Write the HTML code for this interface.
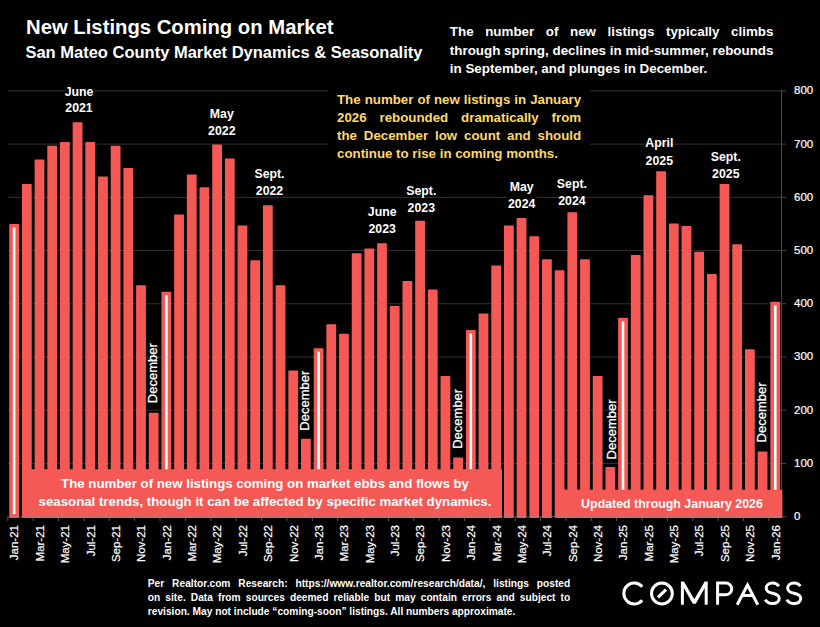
<!DOCTYPE html>
<html><head><meta charset="utf-8">
<style>
html,body{margin:0;padding:0;background:#000;}
body{width:820px;height:627px;position:relative;overflow:hidden;font-family:"Liberation Sans",sans-serif;color:#fff;}
svg{position:absolute;left:0;top:0;}
.yl{font-size:11.5px;fill:#fff;stroke:#fff;stroke-width:0.2px;}
.xl{font-size:11.5px;fill:#fff;text-anchor:end;stroke:#fff;stroke-width:0.2px;}
.dec{font-size:13px;fill:#fff;stroke:#fff;stroke-width:0.25px;}
.ann{font-size:12.3px;font-weight:bold;fill:#fff;text-anchor:middle;}
.t{position:absolute;white-space:nowrap;font-weight:bold;}
.j{position:absolute;font-weight:bold;white-space:nowrap;text-align:justify;text-align-last:justify;}
</style></head><body>
<svg width="820" height="627" viewBox="0 0 820 627">
<rect x="8" y="462.89" width="774" height="1" fill="#333"/>
<rect x="8" y="409.68" width="774" height="1" fill="#333"/>
<rect x="8" y="356.47" width="774" height="1" fill="#333"/>
<rect x="8" y="303.26" width="774" height="1" fill="#333"/>
<rect x="8" y="250.05" width="774" height="1" fill="#333"/>
<rect x="8" y="196.84" width="774" height="1" fill="#333"/>
<rect x="8" y="143.63" width="774" height="1" fill="#333"/>
<rect x="8" y="90.42" width="774" height="1" fill="#333"/>
<rect x="9.24" y="223.98" width="9.8" height="294.02" rx="0.8" fill="#F55956"/>
<rect x="12.84" y="227.48" width="2.6" height="286.62" fill="#fff"/>
<rect x="21.93" y="184.01" width="9.8" height="333.99" rx="0.8" fill="#F55956"/>
<rect x="34.61" y="159.49" width="9.8" height="358.51" rx="0.8" fill="#F55956"/>
<rect x="47.30" y="145.63" width="9.8" height="372.37" rx="0.8" fill="#F55956"/>
<rect x="59.98" y="141.90" width="9.8" height="376.10" rx="0.8" fill="#F55956"/>
<rect x="72.67" y="122.18" width="9.8" height="395.82" rx="0.8" fill="#F55956"/>
<rect x="85.35" y="141.90" width="9.8" height="376.10" rx="0.8" fill="#F55956"/>
<rect x="98.04" y="176.55" width="9.8" height="341.45" rx="0.8" fill="#F55956"/>
<rect x="110.72" y="145.63" width="9.8" height="372.37" rx="0.8" fill="#F55956"/>
<rect x="123.41" y="168.02" width="9.8" height="349.98" rx="0.8" fill="#F55956"/>
<rect x="136.10" y="285.28" width="9.8" height="232.72" rx="0.8" fill="#F55956"/>
<rect x="148.78" y="412.67" width="9.8" height="105.33" rx="0.8" fill="#F55956"/>
<rect x="161.47" y="291.67" width="9.8" height="226.33" rx="0.8" fill="#F55956"/>
<rect x="165.07" y="295.17" width="2.6" height="218.93" fill="#fff"/>
<rect x="174.15" y="214.39" width="9.8" height="303.61" rx="0.8" fill="#F55956"/>
<rect x="186.84" y="174.41" width="9.8" height="343.59" rx="0.8" fill="#F55956"/>
<rect x="199.52" y="187.21" width="9.8" height="330.79" rx="0.8" fill="#F55956"/>
<rect x="212.21" y="144.57" width="9.8" height="373.43" rx="0.8" fill="#F55956"/>
<rect x="224.89" y="158.42" width="9.8" height="359.58" rx="0.8" fill="#F55956"/>
<rect x="237.58" y="225.58" width="9.8" height="292.42" rx="0.8" fill="#F55956"/>
<rect x="250.26" y="260.23" width="9.8" height="257.77" rx="0.8" fill="#F55956"/>
<rect x="262.95" y="205.33" width="9.8" height="312.67" rx="0.8" fill="#F55956"/>
<rect x="275.63" y="285.28" width="9.8" height="232.72" rx="0.8" fill="#F55956"/>
<rect x="288.32" y="370.56" width="9.8" height="147.44" rx="0.8" fill="#F55956"/>
<rect x="301.00" y="438.78" width="9.8" height="79.22" rx="0.8" fill="#F55956"/>
<rect x="313.69" y="348.17" width="9.8" height="169.83" rx="0.8" fill="#F55956"/>
<rect x="317.29" y="351.67" width="2.6" height="162.43" fill="#fff"/>
<rect x="326.37" y="324.19" width="9.8" height="193.81" rx="0.8" fill="#F55956"/>
<rect x="339.06" y="333.78" width="9.8" height="184.22" rx="0.8" fill="#F55956"/>
<rect x="351.74" y="253.30" width="9.8" height="264.70" rx="0.8" fill="#F55956"/>
<rect x="364.43" y="248.50" width="9.8" height="269.50" rx="0.8" fill="#F55956"/>
<rect x="377.11" y="243.17" width="9.8" height="274.83" rx="0.8" fill="#F55956"/>
<rect x="389.80" y="306.06" width="9.8" height="211.94" rx="0.8" fill="#F55956"/>
<rect x="402.49" y="281.01" width="9.8" height="236.99" rx="0.8" fill="#F55956"/>
<rect x="415.17" y="220.79" width="9.8" height="297.21" rx="0.8" fill="#F55956"/>
<rect x="427.86" y="289.54" width="9.8" height="228.46" rx="0.8" fill="#F55956"/>
<rect x="440.54" y="375.89" width="9.8" height="142.11" rx="0.8" fill="#F55956"/>
<rect x="453.23" y="457.44" width="9.8" height="60.56" rx="0.8" fill="#F55956"/>
<rect x="465.91" y="330.05" width="9.8" height="187.95" rx="0.8" fill="#F55956"/>
<rect x="469.51" y="333.55" width="2.6" height="180.55" fill="#fff"/>
<rect x="478.60" y="313.53" width="9.8" height="204.47" rx="0.8" fill="#F55956"/>
<rect x="491.28" y="265.56" width="9.8" height="252.44" rx="0.8" fill="#F55956"/>
<rect x="503.97" y="225.58" width="9.8" height="292.42" rx="0.8" fill="#F55956"/>
<rect x="516.65" y="218.12" width="9.8" height="299.88" rx="0.8" fill="#F55956"/>
<rect x="529.34" y="236.24" width="9.8" height="281.76" rx="0.8" fill="#F55956"/>
<rect x="542.02" y="259.16" width="9.8" height="258.84" rx="0.8" fill="#F55956"/>
<rect x="554.71" y="270.35" width="9.8" height="247.65" rx="0.8" fill="#F55956"/>
<rect x="567.39" y="212.26" width="9.8" height="305.74" rx="0.8" fill="#F55956"/>
<rect x="580.08" y="259.16" width="9.8" height="258.84" rx="0.8" fill="#F55956"/>
<rect x="592.76" y="375.89" width="9.8" height="142.11" rx="0.8" fill="#F55956"/>
<rect x="605.45" y="467.03" width="9.8" height="50.97" rx="0.8" fill="#F55956"/>
<rect x="618.13" y="317.79" width="9.8" height="200.21" rx="0.8" fill="#F55956"/>
<rect x="621.73" y="321.29" width="2.6" height="192.81" fill="#fff"/>
<rect x="630.82" y="254.90" width="9.8" height="263.10" rx="0.8" fill="#F55956"/>
<rect x="643.50" y="195.20" width="9.8" height="322.80" rx="0.8" fill="#F55956"/>
<rect x="656.19" y="171.22" width="9.8" height="346.78" rx="0.8" fill="#F55956"/>
<rect x="668.88" y="223.45" width="9.8" height="294.55" rx="0.8" fill="#F55956"/>
<rect x="681.56" y="226.12" width="9.8" height="291.88" rx="0.8" fill="#F55956"/>
<rect x="694.25" y="251.70" width="9.8" height="266.30" rx="0.8" fill="#F55956"/>
<rect x="706.93" y="274.09" width="9.8" height="243.91" rx="0.8" fill="#F55956"/>
<rect x="719.62" y="184.01" width="9.8" height="333.99" rx="0.8" fill="#F55956"/>
<rect x="732.30" y="244.24" width="9.8" height="273.76" rx="0.8" fill="#F55956"/>
<rect x="744.99" y="349.24" width="9.8" height="168.76" rx="0.8" fill="#F55956"/>
<rect x="757.67" y="451.57" width="9.8" height="66.43" rx="0.8" fill="#F55956"/>
<rect x="770.36" y="301.80" width="9.8" height="216.20" rx="0.8" fill="#F55956"/>
<rect x="773.96" y="305.30" width="2.6" height="208.80" fill="#fff"/>
<rect x="781" y="90.4" width="1" height="427" fill="#4a4a4a"/>
<rect x="782" y="516.10" width="4" height="1" fill="#4a4a4a"/>
<rect x="782" y="462.89" width="4" height="1" fill="#4a4a4a"/>
<rect x="782" y="409.68" width="4" height="1" fill="#4a4a4a"/>
<rect x="782" y="356.47" width="4" height="1" fill="#4a4a4a"/>
<rect x="782" y="303.26" width="4" height="1" fill="#4a4a4a"/>
<rect x="782" y="250.05" width="4" height="1" fill="#4a4a4a"/>
<rect x="782" y="196.84" width="4" height="1" fill="#4a4a4a"/>
<rect x="782" y="143.63" width="4" height="1" fill="#4a4a4a"/>
<rect x="782" y="90.42" width="4" height="1" fill="#4a4a4a"/>
<rect x="7.30" y="517" width="1" height="4" fill="#555"/>
<rect x="32.67" y="517" width="1" height="4" fill="#555"/>
<rect x="58.04" y="517" width="1" height="4" fill="#555"/>
<rect x="83.41" y="517" width="1" height="4" fill="#555"/>
<rect x="108.78" y="517" width="1" height="4" fill="#555"/>
<rect x="134.15" y="517" width="1" height="4" fill="#555"/>
<rect x="159.52" y="517" width="1" height="4" fill="#555"/>
<rect x="184.89" y="517" width="1" height="4" fill="#555"/>
<rect x="210.26" y="517" width="1" height="4" fill="#555"/>
<rect x="235.63" y="517" width="1" height="4" fill="#555"/>
<rect x="261.00" y="517" width="1" height="4" fill="#555"/>
<rect x="286.38" y="517" width="1" height="4" fill="#555"/>
<rect x="311.75" y="517" width="1" height="4" fill="#555"/>
<rect x="337.12" y="517" width="1" height="4" fill="#555"/>
<rect x="362.49" y="517" width="1" height="4" fill="#555"/>
<rect x="387.86" y="517" width="1" height="4" fill="#555"/>
<rect x="413.23" y="517" width="1" height="4" fill="#555"/>
<rect x="438.60" y="517" width="1" height="4" fill="#555"/>
<rect x="463.97" y="517" width="1" height="4" fill="#555"/>
<rect x="489.34" y="517" width="1" height="4" fill="#555"/>
<rect x="514.71" y="517" width="1" height="4" fill="#555"/>
<rect x="540.08" y="517" width="1" height="4" fill="#555"/>
<rect x="565.45" y="517" width="1" height="4" fill="#555"/>
<rect x="590.82" y="517" width="1" height="4" fill="#555"/>
<rect x="616.19" y="517" width="1" height="4" fill="#555"/>
<rect x="641.56" y="517" width="1" height="4" fill="#555"/>
<rect x="666.93" y="517" width="1" height="4" fill="#555"/>
<rect x="692.30" y="517" width="1" height="4" fill="#555"/>
<rect x="717.67" y="517" width="1" height="4" fill="#555"/>
<rect x="743.04" y="517" width="1" height="4" fill="#555"/>
<rect x="768.41" y="517" width="1" height="4" fill="#555"/>
<text x="794" y="520.0" class="yl">0</text>
<text x="794" y="466.8" class="yl">100</text>
<text x="794" y="413.6" class="yl">200</text>
<text x="794" y="360.4" class="yl">300</text>
<text x="794" y="307.2" class="yl">400</text>
<text x="794" y="254.0" class="yl">500</text>
<text x="794" y="200.7" class="yl">600</text>
<text x="794" y="147.5" class="yl">700</text>
<text x="794" y="94.3" class="yl">800</text>
<text transform="translate(18.4,525) rotate(-90)" class="xl">Jan-21</text>
<text transform="translate(43.8,525) rotate(-90)" class="xl">Mar-21</text>
<text transform="translate(69.2,525) rotate(-90)" class="xl">May-21</text>
<text transform="translate(94.6,525) rotate(-90)" class="xl">Jul-21</text>
<text transform="translate(119.9,525) rotate(-90)" class="xl">Sep-21</text>
<text transform="translate(145.3,525) rotate(-90)" class="xl">Nov-21</text>
<text transform="translate(170.7,525) rotate(-90)" class="xl">Jan-22</text>
<text transform="translate(196.0,525) rotate(-90)" class="xl">Mar-22</text>
<text transform="translate(221.4,525) rotate(-90)" class="xl">May-22</text>
<text transform="translate(246.8,525) rotate(-90)" class="xl">Jul-22</text>
<text transform="translate(272.1,525) rotate(-90)" class="xl">Sep-22</text>
<text transform="translate(297.5,525) rotate(-90)" class="xl">Nov-22</text>
<text transform="translate(322.9,525) rotate(-90)" class="xl">Jan-23</text>
<text transform="translate(348.3,525) rotate(-90)" class="xl">Mar-23</text>
<text transform="translate(373.6,525) rotate(-90)" class="xl">May-23</text>
<text transform="translate(399.0,525) rotate(-90)" class="xl">Jul-23</text>
<text transform="translate(424.4,525) rotate(-90)" class="xl">Sep-23</text>
<text transform="translate(449.7,525) rotate(-90)" class="xl">Nov-23</text>
<text transform="translate(475.1,525) rotate(-90)" class="xl">Jan-24</text>
<text transform="translate(500.5,525) rotate(-90)" class="xl">Mar-24</text>
<text transform="translate(525.9,525) rotate(-90)" class="xl">May-24</text>
<text transform="translate(551.2,525) rotate(-90)" class="xl">Jul-24</text>
<text transform="translate(576.6,525) rotate(-90)" class="xl">Sep-24</text>
<text transform="translate(602.0,525) rotate(-90)" class="xl">Nov-24</text>
<text transform="translate(627.3,525) rotate(-90)" class="xl">Jan-25</text>
<text transform="translate(652.7,525) rotate(-90)" class="xl">Mar-25</text>
<text transform="translate(678.1,525) rotate(-90)" class="xl">May-25</text>
<text transform="translate(703.4,525) rotate(-90)" class="xl">Jul-25</text>
<text transform="translate(728.8,525) rotate(-90)" class="xl">Sep-25</text>
<text transform="translate(754.2,525) rotate(-90)" class="xl">Nov-25</text>
<text transform="translate(779.6,525) rotate(-90)" class="xl">Jan-26</text>
<text transform="translate(156.7,403.2) rotate(-90)" class="dec">December</text>
<text transform="translate(309.2,430.7) rotate(-90)" class="dec">December</text>
<text transform="translate(461.8,448.8) rotate(-90)" class="dec">December</text>
<text transform="translate(616.1,459.4) rotate(-90)" class="dec">December</text>
<text transform="translate(765.7,442.4) rotate(-90)" class="dec">December</text>
<rect x="65" y="86" width="29" height="10" fill="#000"/>
<rect x="507" y="196.3" width="29.5" height="12" fill="#000"/>
<text x="79" y="95.5" class="ann">June</text>
<text x="79" y="112.2" class="ann">2021</text>
<text x="221.8" y="118.3" class="ann">May</text>
<text x="221.8" y="135" class="ann">2022</text>
<text x="269.5" y="178.3" class="ann">Sept.</text>
<text x="269.5" y="195" class="ann">2022</text>
<text x="382.2" y="216.3" class="ann">June</text>
<text x="382.2" y="233" class="ann">2023</text>
<text x="421.3" y="194.8" class="ann">Sept.</text>
<text x="421.3" y="211.6" class="ann">2023</text>
<text x="521.7" y="190.5" class="ann">May</text>
<text x="521.7" y="207.9" class="ann">2024</text>
<text x="571.9" y="188.1" class="ann">Sept.</text>
<text x="571.9" y="205" class="ann">2024</text>
<text x="659.3" y="147.1" class="ann">April</text>
<text x="659.3" y="164.8" class="ann">2025</text>
<text x="725.8" y="161" class="ann">Sept.</text>
<text x="725.8" y="177.6" class="ann">2025</text>
<rect x="328" y="84" width="262" height="84" fill="#000"/>
<rect x="27" y="469.2" width="475" height="48.8" fill="#F55956"/>
<rect x="555" y="489.7" width="227.4" height="28.3" fill="#F55956"/>
<rect x="7.5" y="516.2" width="774" height="1" fill="#888" fill-opacity="0.6"/>
<text x="26" y="34.2" style="font-size:20.3px;font-weight:bold;fill:#fff">New Listings Coming on Market</text>
<text x="25.4" y="58.1" style="font-size:16.5px;font-weight:bold;fill:#fff">San Mateo County Market Dynamics &amp; Seasonality</text>
<text x="265" y="488.3" style="font-size:13.25px;font-weight:bold;fill:#fff;text-anchor:middle">The number of new listings coming on market ebbs and flows by</text>
<text x="265" y="506.3" style="font-size:13.25px;font-weight:bold;fill:#fff;text-anchor:middle">seasonal trends, though it can be affected by specific market dynamics.</text>
<text x="672" y="507.5" style="font-size:12.4px;font-weight:bold;fill:#fff;text-anchor:middle">Updated through January 2026</text>
</svg>
<div class="j" style="left:449.8px;top:24.32px;width:323.7px;font-size:13.4px;line-height:16.08px;color:#fff">The number of new listings typically climbs</div>
<div class="j" style="left:449.8px;top:42.52px;width:323.7px;font-size:13.4px;line-height:16.08px;color:#fff">through spring, declines in mid-summer, rebounds</div>
<div class="t" style="left:449.8px;top:60.82px;width:323.7px;font-size:13.4px;line-height:16.08px;color:#fff">in September, and plunges in December.</div>
<div class="j" style="left:337px;top:92.01px;width:244.2px;font-size:13.3px;line-height:15.96px;color:#FFD966">The number of new listings in January</div>
<div class="j" style="left:337px;top:110.11px;width:244.2px;font-size:13.3px;line-height:15.96px;color:#FFD966">2026 rebounded dramatically from</div>
<div class="j" style="left:337px;top:128.21px;width:244.2px;font-size:13.3px;line-height:15.96px;color:#FFD966">the December low count and should</div>
<div class="t" style="left:337px;top:145.91px;width:244.2px;font-size:13.3px;line-height:15.96px;color:#FFD966">continue to rise in coming months.</div>
<div class="j" style="left:147.8px;top:577.75px;width:422.4px;font-size:10.2px;line-height:12.24px;color:#fff">Per Realtor.com Research:  https://www.realtor.com/research/data/, listings posted</div>
<div class="j" style="left:147.8px;top:591.65px;width:422.4px;font-size:10.2px;line-height:12.24px;color:#fff">on site. Data from sources deemed reliable but may contain errors and subject to</div>
<div class="t" style="left:147.8px;top:605.75px;width:422.4px;font-size:10.2px;line-height:12.24px;color:#fff">revision. May not include “coming-soon” listings. All numbers approximate.</div>
<svg style="position:absolute;left:0;top:0" width="820" height="627"><g fill="none" stroke="#fff" stroke-width="3"><path d="M642.2 586.8 A10.4 10.4 0 1 0 642.2 600.2"/><circle cx="661.9" cy="593.5" r="10.4"/><path d="M658 597.4 L666 589.6"/><path stroke="none" fill="#fff" d="M680.9 604.8 V581.6 H683.9 L694.3 599.2 L704.7 581.6 H707.7 V604.8 H704.7 V587.9 L695.8 603.8 H692.8 L683.9 587.9 V604.8 Z"/><path d="M717.6 604.8 V583.1 H725.9 A5.8 5.8 0 0 1 725.9 594.7 H717.6"/><path d="M737.2 604.8 L747.5 585 L757.8 604.8 M741.6 595.4 H753.4" stroke-linejoin="miter" stroke-miterlimit="10"/><path d="M778.8 586.3 C777.5 584.2 775.5 583.1 772.5 583.1 C768.7 583.1 766.2 585.3 766.2 588.2 C766.2 591.5 769 592.5 772.5 593.3 C776.5 594.2 779.2 595.5 779.2 598.6 C779.2 601.6 776.5 603.5 772.5 603.5 C769.2 603.5 766.6 602.1 765.3 599.6"/><path d="M800.3 586.3 C799 584.2 797 583.1 794 583.1 C790.2 583.1 787.7 585.3 787.7 588.2 C787.7 591.5 790.5 592.5 794 593.3 C798 594.2 800.7 595.5 800.7 598.6 C800.7 601.6 798 603.5 794 603.5 C790.7 603.5 788.1 602.1 786.8 599.6"/></g></svg>
</body></html>
